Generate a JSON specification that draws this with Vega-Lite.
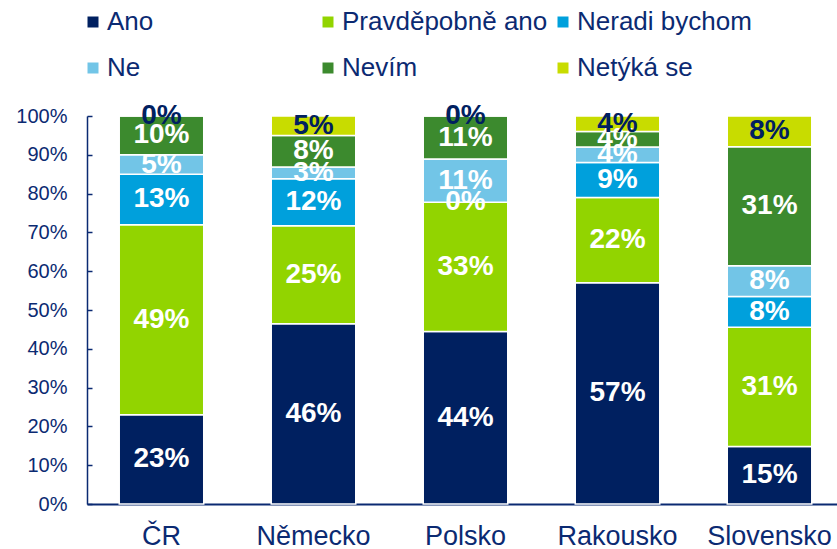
{
  "$schema": "https://vega.github.io/schema/vega-lite/v6.json",
  "width": 757,
  "height": 388,
  "autosize": {"type": "none"},
  "padding": {"left": 87, "top": 116, "right": 0, "bottom": 45},
  "background": "white",
  "config": {"view": {"stroke": null}, "font": "Liberation Sans, Arial, sans-serif"},
  "data": {
    "values": [
      {"country": "ČR", "series": "Ano", "rank": 1, "value": 0.23},
      {"country": "ČR", "series": "Pravděpobně ano", "rank": 2, "value": 0.49},
      {"country": "ČR", "series": "Neradi bychom", "rank": 3, "value": 0.13},
      {"country": "ČR", "series": "Ne", "rank": 4, "value": 0.05},
      {"country": "ČR", "series": "Nevím", "rank": 5, "value": 0.10},
      {"country": "ČR", "series": "Netýká se", "rank": 6, "value": 0.0},
      {"country": "Německo", "series": "Ano", "rank": 1, "value": 0.46},
      {"country": "Německo", "series": "Pravděpobně ano", "rank": 2, "value": 0.25},
      {"country": "Německo", "series": "Neradi bychom", "rank": 3, "value": 0.12},
      {"country": "Německo", "series": "Ne", "rank": 4, "value": 0.03},
      {"country": "Německo", "series": "Nevím", "rank": 5, "value": 0.08},
      {"country": "Německo", "series": "Netýká se", "rank": 6, "value": 0.05},
      {"country": "Polsko", "series": "Ano", "rank": 1, "value": 0.44},
      {"country": "Polsko", "series": "Pravděpobně ano", "rank": 2, "value": 0.33},
      {"country": "Polsko", "series": "Neradi bychom", "rank": 3, "value": 0.0},
      {"country": "Polsko", "series": "Ne", "rank": 4, "value": 0.11},
      {"country": "Polsko", "series": "Nevím", "rank": 5, "value": 0.11},
      {"country": "Polsko", "series": "Netýká se", "rank": 6, "value": 0.0},
      {"country": "Rakousko", "series": "Ano", "rank": 1, "value": 0.57},
      {"country": "Rakousko", "series": "Pravděpobně ano", "rank": 2, "value": 0.22},
      {"country": "Rakousko", "series": "Neradi bychom", "rank": 3, "value": 0.09},
      {"country": "Rakousko", "series": "Ne", "rank": 4, "value": 0.04},
      {"country": "Rakousko", "series": "Nevím", "rank": 5, "value": 0.04},
      {"country": "Rakousko", "series": "Netýká se", "rank": 6, "value": 0.04},
      {"country": "Slovensko", "series": "Ano", "rank": 1, "value": 0.15},
      {"country": "Slovensko", "series": "Pravděpobně ano", "rank": 2, "value": 0.31},
      {"country": "Slovensko", "series": "Neradi bychom", "rank": 3, "value": 0.08},
      {"country": "Slovensko", "series": "Ne", "rank": 4, "value": 0.08},
      {"country": "Slovensko", "series": "Nevím", "rank": 5, "value": 0.31},
      {"country": "Slovensko", "series": "Netýká se", "rank": 6, "value": 0.08}
    ]
  },
  "encoding": {
    "x": {
      "field": "country",
      "type": "nominal",
      "sort": ["ČR", "Německo", "Polsko", "Rakousko", "Slovensko"],
      "scale": {"paddingInner": 0.444, "paddingOuter": 0.212},
      "axis": {
        "title": null,
        "labelAngle": 0,
        "labelFontSize": 27,
        "labelColor": "#0B2A72",
        "domainColor": "#0B2A72",
        "domainWidth": 2,
        "ticks": false,
        "labelPadding": 19
      }
    }
  },
  "layer": [
    {
      "mark": {"type": "bar", "stroke": "white", "strokeWidth": 1.5},
      "encoding": {
        "y": {
          "field": "value",
          "type": "quantitative",
          "stack": "normalize",
          "title": null,
          "scale": {"domain": [0, 1]},
          "axis": {
            "title": null,
            "format": ".0%",
            "values": [0, 0.1, 0.2, 0.3, 0.4, 0.5, 0.6, 0.7, 0.8, 0.9, 1],
            "grid": false,
            "labelFontSize": 20,
            "labelColor": "#0B2A72",
            "domainColor": "#0B2A72",
            "domainWidth": 1.5,
            "tickColor": "#0B2A72",
            "tickWidth": 1.5,
            "tickSize": -5,
            "labelPadding": 25
          }
        },
        "order": {"field": "rank", "type": "quantitative"},
        "color": {
          "field": "series",
          "type": "nominal",
          "scale": {
            "domain": ["Ano", "Pravděpobně ano", "Neradi bychom", "Ne", "Nevím", "Netýká se"],
            "range": ["#002060", "#92D400", "#00A0DC", "#72C5E7", "#3C8A2E", "#C8DC00"]
          },
          "legend": {
            "orient": "none",
            "legendX": -7,
            "legendY": -107,
            "direction": "horizontal",
            "columns": 3,
            "gridAlign": "all",
            "title": null,
            "symbolType": "square",
            "symbolSize": 121,
            "symbolStrokeWidth": 0,
            "symbolOpacity": 1,
            "labelFontSize": 26,
            "labelColor": "#0B2A72",
            "labelOffset": 1,
            "columnPadding": 2,
            "rowPadding": 20,
            "labelLimit": 400,
            "padding": 0
          }
        }
      }
    },
    {
      "transform": [
        {"stack": "value", "groupby": ["country"], "sort": [{"field": "rank"}], "offset": "normalize", "as": ["v0", "v1"]},
        {"calculate": "(datum.v0 + datum.v1) / 2", "as": "mid"}
      ],
      "mark": {"type": "text", "fontSize": 28, "fontWeight": "bold"},
      "encoding": {
        "y": {
          "field": "mid",
          "type": "quantitative",
          "title": null,
          "axis": {
            "title": null,
            "format": ".0%",
            "values": [0, 0.1, 0.2, 0.3, 0.4, 0.5, 0.6, 0.7, 0.8, 0.9, 1],
            "grid": false,
            "labelFontSize": 20,
            "labelColor": "#0B2A72",
            "domainColor": "#0B2A72",
            "domainWidth": 1.5,
            "tickColor": "#0B2A72",
            "tickWidth": 1.5,
            "tickSize": -5,
            "labelPadding": 25
          }
        },
        "text": {"field": "value", "type": "quantitative", "format": ".0%"},
        "color": {
          "condition": {"test": "datum.series === 'Netýká se'", "value": "#002060"},
          "value": "white"
        }
      }
    }
  ]
}
